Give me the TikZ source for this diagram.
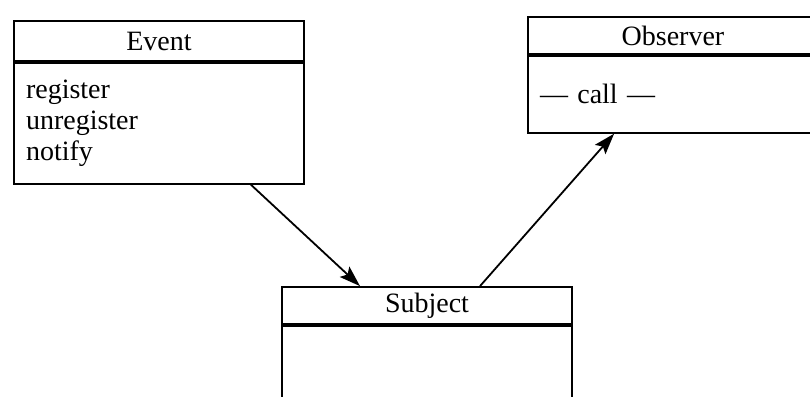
\documentclass[tikz,border=0pt]{standalone}
\usepackage{fontspec}
\setmainfont{Liberation Serif}
\usetikzlibrary{positioning,arrows.meta}

\begin{document}
\begin{tikzpicture}[x=1pt,y=-1pt,node distance=0pt,
umlhead/.style={draw,line width=1.8pt,minimum width=290pt,inner sep=0pt,font=\fontsize{28}{31}\selectfont},
umlbody/.style={draw,line width=1.8pt,minimum width=290pt,text width=266pt,inner xsep=12pt,align=left,font=\fontsize{28}{31}\selectfont},
arrow/.style={-{Stealth[length=21pt,width=14pt,inset=4pt]},line width=1.8pt}]
\useasboundingbox[fill=white] (0,0) rectangle (810,396);
\node[umlhead,minimum height=40pt] (event) at (159,41) {Event};
\node[umlbody,below=of event,minimum height=121pt] (eventbody) {register\\unregister\\notify};
\node[umlhead,minimum height=37pt] (observer) at (673,35.5) {Observer};
\node[umlbody,below=of observer,minimum height=77pt] (observerbody) {--- call ---};
\node[umlhead,minimum height=37pt] (subject) at (427,305.5) {Subject};
\node[umlbody,below=of subject,minimum height=110pt] (subjectbody) {};
\draw[arrow] ([xshift=-54pt]eventbody.south east) -- ([xshift=-67pt]subject.north);
\draw[arrow] ([xshift=53pt]subject.north) -- ([xshift=87pt]observerbody.south west);
\end{tikzpicture}
\end{document}
